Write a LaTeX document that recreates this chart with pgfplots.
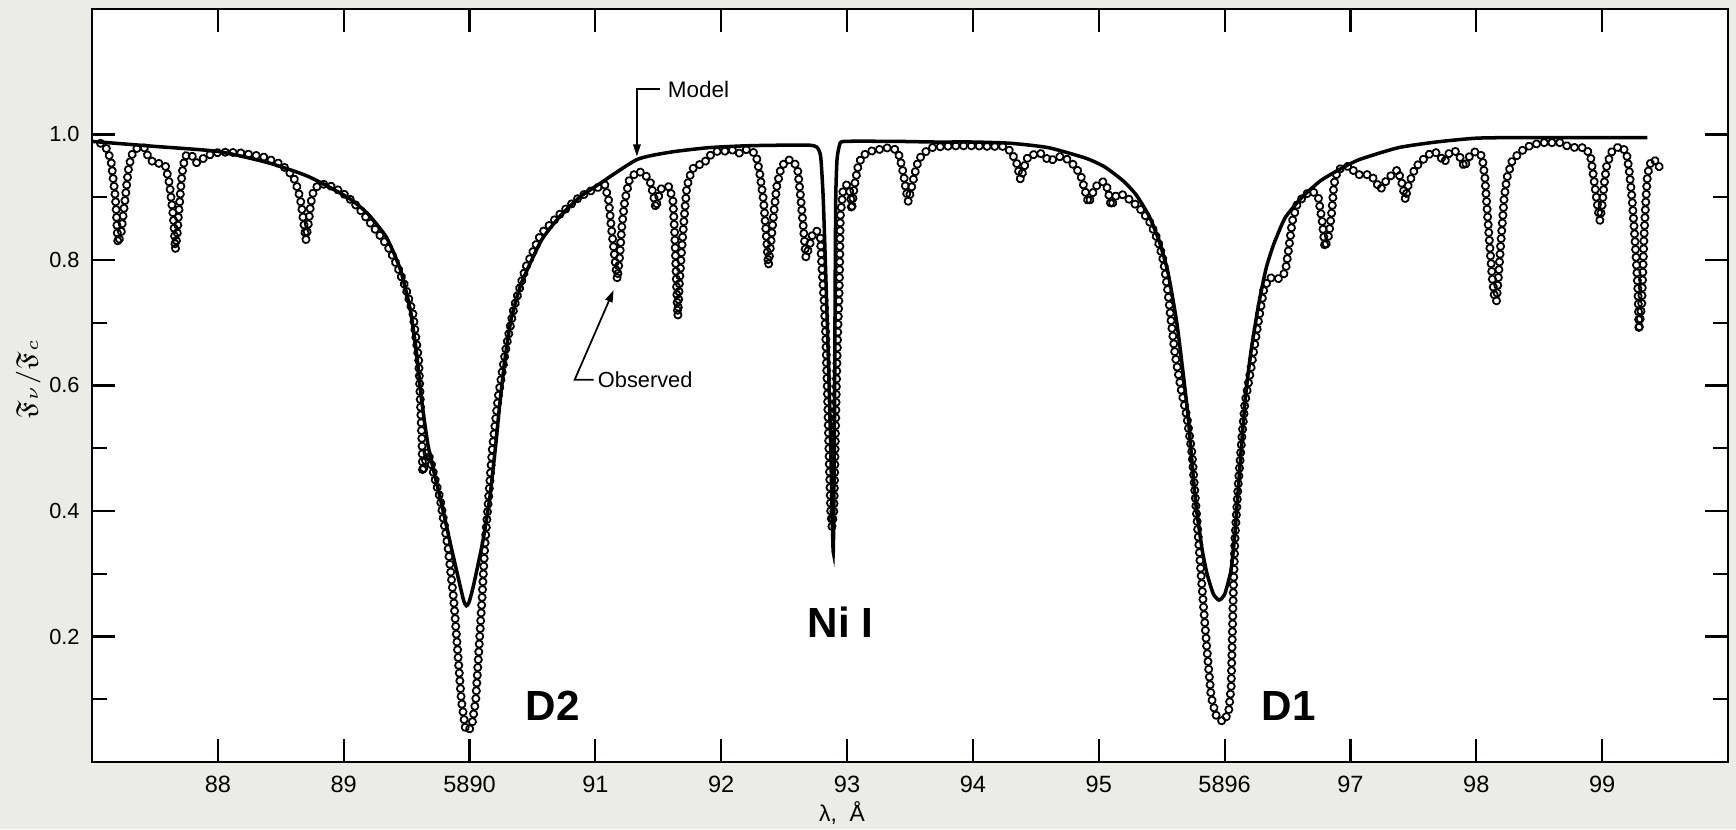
\documentclass[border=0pt]{standalone}
\usepackage{fontspec}
\setmainfont{Liberation Sans}
\usepackage{amssymb}
\usepackage{pgfplots}
\usepackage{pgfplotstable}
\pgfplotsset{compat=1.18}
\usetikzlibrary{decorations.markings, arrows.meta}

\definecolor{paper}{HTML}{EBEBE8}

% Model profile of the Na D region (flux ratio vs wavelength - 5800 A)
\pgfplotstableread{
lam flux
87.00 0.989
87.50 0.981
88.00 0.973
88.40 0.955
88.72 0.933
89.03 0.900
89.19 0.874
89.34 0.836
89.45 0.785
89.53 0.720
89.58 0.650
89.62 0.575
89.67 0.505
89.72 0.460
89.77 0.418
89.84 0.355
89.92 0.285
89.955 0.256
89.975 0.249
89.995 0.254
90.03 0.280
90.105 0.351
90.16 0.420
90.205 0.500
90.24 0.570
90.28 0.640
90.33 0.705
90.41 0.762
90.57 0.831
90.72 0.870
90.88 0.901
91.00 0.917
91.33 0.960
91.60 0.972
91.90 0.979
92.20 0.982
92.50 0.983
92.70 0.983
92.76 0.980
92.79 0.965
92.81 0.900
92.83 0.780
92.85 0.650
92.87 0.500
92.89 0.335
92.90 0.550
92.905 0.750
92.91 0.900
92.92 0.960
92.94 0.983
92.98 0.989
93.40 0.989
93.70 0.988
94.00 0.988
94.30 0.986
94.60 0.979
94.90 0.962
95.05 0.948
95.20 0.925
95.30 0.903
95.40 0.870
95.48 0.830
95.55 0.780
95.62 0.700
95.67 0.620
95.71 0.550
95.74 0.480
95.77 0.413
95.82 0.340
95.86 0.300
95.91 0.268
95.955 0.258
96.00 0.267
96.05 0.305
96.08 0.360
96.11 0.440
96.14 0.520
96.17 0.590
96.21 0.655
96.27 0.729
96.33 0.787
96.39 0.825
96.48 0.867
96.61 0.899
96.76 0.926
96.91 0.944
97.07 0.960
97.38 0.979
97.68 0.988
97.99 0.994
98.30 0.995
99.36 0.995
}\modeltab

% Observed solar flux spectrum
\pgfplotstableread{
lam flux
87.068 0.986
87.123 0.976
87.154 0.954
87.169 0.928
87.185 0.901
87.194 0.874
87.200 0.847
87.206 0.826
87.231 0.842
87.246 0.869
87.262 0.895
87.277 0.922
87.292 0.949
87.323 0.971
87.363 0.979
87.415 0.979
87.446 0.965
87.492 0.954
87.554 0.954
87.585 0.949
87.615 0.922
87.631 0.895
87.646 0.869
87.655 0.842
87.662 0.816
87.677 0.842
87.686 0.869
87.698 0.895
87.708 0.922
87.723 0.949
87.745 0.966
87.785 0.969
87.830 0.955
87.877 0.961
87.940 0.968
88.015 0.972
88.170 0.971
88.354 0.965
88.508 0.952
88.600 0.933
88.637 0.912
88.662 0.890
88.680 0.863
88.700 0.832
88.723 0.863
88.738 0.890
88.760 0.910
88.800 0.920
88.862 0.921
88.938 0.914
89.031 0.901
89.123 0.882
89.215 0.858
89.308 0.834
89.369 0.815
89.430 0.788
89.492 0.756
89.550 0.715
89.596 0.640
89.612 0.560
89.622 0.510
89.627 0.461
89.645 0.475
89.665 0.495
89.690 0.480
89.720 0.455
89.766 0.420
89.830 0.340
89.874 0.259
89.905 0.178
89.935 0.098
89.966 0.055
89.988 0.049
90.018 0.058
90.049 0.098
90.074 0.178
90.099 0.259
90.120 0.340
90.151 0.420
90.182 0.501
90.228 0.582
90.290 0.660
90.354 0.725
90.446 0.788
90.569 0.842
90.723 0.874
90.877 0.901
91.000 0.914
91.075 0.920
91.105 0.895
91.126 0.853
91.150 0.810
91.174 0.769
91.195 0.810
91.210 0.853
91.234 0.895
91.270 0.928
91.330 0.941
91.384 0.939
91.435 0.925
91.460 0.905
91.480 0.882
91.500 0.900
91.525 0.914
91.586 0.917
91.616 0.895
91.630 0.842
91.640 0.788
91.649 0.735
91.655 0.710
91.667 0.761
91.685 0.815
91.706 0.869
91.727 0.917
91.766 0.944
91.810 0.952
91.856 0.952
91.900 0.965
91.960 0.973
92.020 0.973
92.080 0.976
92.140 0.970
92.200 0.976
92.246 0.973
92.276 0.968
92.306 0.938
92.336 0.895
92.357 0.842
92.375 0.791
92.396 0.831
92.417 0.874
92.441 0.917
92.477 0.949
92.530 0.960
92.577 0.957
92.607 0.944
92.628 0.906
92.652 0.853
92.673 0.804
92.697 0.820
92.727 0.842
92.757 0.847
92.787 0.836
92.800 0.788
92.817 0.735
92.830 0.681
92.845 0.580
92.858 0.480
92.870 0.400
92.880 0.375
92.895 0.400
92.905 0.500
92.915 0.600
92.925 0.681
92.937 0.750
92.941 0.788
92.946 0.869
92.967 0.909
92.997 0.920
93.027 0.906
93.036 0.879
93.057 0.917
93.087 0.949
93.117 0.965
93.177 0.973
93.252 0.976
93.327 0.979
93.387 0.976
93.417 0.965
93.447 0.938
93.468 0.912
93.486 0.893
93.508 0.912
93.538 0.938
93.568 0.960
93.613 0.971
93.673 0.979
93.763 0.981
93.883 0.982
94.003 0.982
94.123 0.981
94.243 0.981
94.303 0.973
94.348 0.954
94.378 0.928
94.408 0.949
94.438 0.965
94.483 0.968
94.528 0.971
94.574 0.965
94.604 0.957
94.634 0.960
94.694 0.965
94.754 0.960
94.814 0.949
94.859 0.933
94.889 0.912
94.919 0.890
94.949 0.906
94.994 0.922
95.039 0.925
95.069 0.914
95.099 0.885
95.129 0.901
95.174 0.906
95.220 0.900
95.283 0.890
95.345 0.878
95.406 0.860
95.452 0.840
95.483 0.822
95.514 0.798
95.545 0.756
95.575 0.702
95.606 0.649
95.652 0.596
95.700 0.550
95.740 0.493
95.770 0.413
95.800 0.333
95.830 0.253
95.862 0.173
95.893 0.104
95.930 0.075
95.985 0.064
96.030 0.077
96.052 0.120
96.061 0.200
96.070 0.280
96.083 0.360
96.107 0.440
96.138 0.520
96.162 0.573
96.206 0.623
96.268 0.702
96.314 0.756
96.360 0.772
96.406 0.769
96.452 0.772
96.483 0.782
96.514 0.825
96.538 0.862
96.575 0.888
96.637 0.904
96.698 0.910
96.745 0.899
96.775 0.862
96.797 0.819
96.828 0.840
96.852 0.878
96.868 0.920
96.898 0.944
96.945 0.947
96.990 0.950
97.052 0.936
97.098 0.936
97.160 0.936
97.206 0.923
97.237 0.912
97.283 0.926
97.329 0.936
97.375 0.944
97.412 0.920
97.437 0.896
97.452 0.915
97.483 0.931
97.514 0.947
97.560 0.957
97.622 0.968
97.668 0.973
97.714 0.965
97.745 0.955
97.791 0.973
97.837 0.973
97.883 0.960
97.905 0.947
97.929 0.960
97.966 0.971
98.006 0.973
98.046 0.965
98.068 0.931
98.083 0.888
98.098 0.846
98.114 0.803
98.129 0.766
98.145 0.740
98.160 0.734
98.175 0.772
98.190 0.814
98.206 0.857
98.221 0.899
98.243 0.931
98.283 0.957
98.329 0.968
98.391 0.979
98.452 0.984
98.529 0.987
98.606 0.987
98.668 0.987
98.729 0.981
98.791 0.979
98.868 0.979
98.908 0.965
98.929 0.936
98.951 0.904
98.969 0.878
98.982 0.863
99.000 0.888
99.015 0.920
99.037 0.952
99.083 0.976
99.145 0.981
99.191 0.973
99.215 0.942
99.237 0.899
99.252 0.857
99.268 0.809
99.283 0.756
99.289 0.718
99.292 0.687
99.314 0.729
99.323 0.782
99.332 0.835
99.345 0.888
99.360 0.936
99.391 0.960
99.437 0.957
99.462 0.944
99.474 0.942
}\obstab

% one open circle, drawn with basic-layer commands so that it is emitted
% immediately while the plot path is being decorated
\newcommand\obscircle{%
  \pgfsetstrokeopacity{1}%
  \pgfsetstrokecolor{black}%
  \pgfsetlinewidth{0.5pt}%
  \pgfpathcircle{\pgfpointorigin}{0.36mm}%
  \pgfusepath{stroke}}

\begin{document}
\begin{tikzpicture}
\fill[paper] (-9.2mm,-6.7mm) rectangle (164.4mm,76.2mm);
\begin{axis}[
  at={(0,0)}, anchor=south west,
  scale only axis, width=163.6mm, height=75.3mm,
  xmin=87, xmax=100, ymin=0, ymax=1.2,
  axis background/.style={fill=white},
  axis line style={line width=0.8pt},
  every tick/.style={black, line width=0.6pt},
  tick align=inside,
  major tick length=2.35mm, minor tick length=1.5mm,
  xtick={88,89,90,91,92,93,94,95,96,97,98,99},
  xticklabels={88,89,5890,91,92,93,94,95,5896,97,98,99},
  ytick={0.2,0.4,0.6,0.8,1.0},
  yticklabels={0.2,0.4,0.6,0.8,1.0},
  minor ytick={0.1,0.3,0.5,0.7,0.9},
  xticklabel style={font=\fontsize{6.7}{8}\selectfont, yshift=-0.6pt},
  yticklabel style={font=\fontsize{6.2}{7.5}\selectfont},
  xlabel={λ,\ \ Å},
  xlabel style={at={(axis description cs:0.4584,0)}, anchor=base, yshift=-5.9mm,
    font=\fontsize{6.5}{8}\selectfont},
  ylabel={$\mathfrak{F}_\nu/\mathfrak{F}_c$},
  ylabel style={at={(axis description cs:-0.039,0.5086)}, anchor=center,
    font=\fontsize{7.5}{9}\selectfont},
  clip=false,
]
% observed spectrum: open circles strung along the measured profile
\addplot[black, draw opacity=0, line width=0.1pt, forget plot,
  postaction={decorate},
  decoration={markings,
    mark=between positions 0 and 1 step 0.78mm with {\obscircle}}]
  table[x=lam, y=flux] {\obstab};
% model profile
\addplot[black, line width=1.0pt, smooth, tension=0.35, forget plot]
  table[x=lam, y=flux] {\modeltab};

% leaders and labels
\draw[line width=0.5pt, -{Triangle[length=1.2mm, width=0.75mm]}]
  (axis cs:91.51,1.072) -- (axis cs:91.33,1.072) -- (axis cs:91.33,0.965);
\node[anchor=west, inner sep=0pt, font=\fontsize{6.4}{7.5}\selectfont]
  at (axis cs:91.57,1.072) {Model};
\draw[line width=0.5pt, -{Triangle[length=1.2mm, width=0.75mm]}]
  (axis cs:90.985,0.609) -- (axis cs:90.835,0.609) -- (axis cs:91.145,0.752);
\node[anchor=west, inner sep=0pt, font=\fontsize{6.2}{7.5}\selectfont]
  at (axis cs:91.015,0.609) {Observed};
\node[font=\bfseries\fontsize{12}{14}\selectfont] at (axis cs:90.66,0.089) {D2};
\node[font=\bfseries\fontsize{12}{14}\selectfont] at (axis cs:92.95,0.223) {Ni I};
\node[font=\bfseries\fontsize{12}{14}\selectfont] at (axis cs:96.51,0.090) {D1};
\end{axis}
\pgfresetboundingbox
\path[use as bounding box] (-9.2mm,-6.7mm) rectangle (164.4mm,76.2mm);
\end{tikzpicture}
\end{document}
